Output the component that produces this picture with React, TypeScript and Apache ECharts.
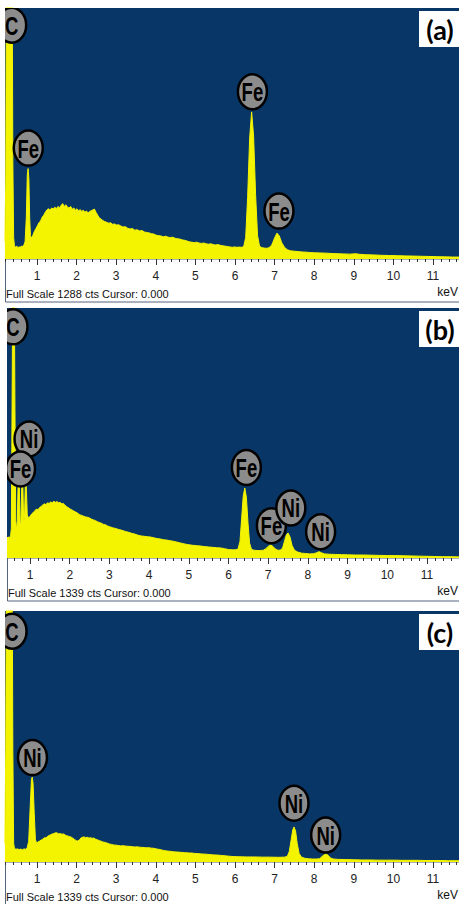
import { useEffect, useRef } from 'react';
import * as echarts from 'echarts';

// ---- data ----
const FULL_SCALE_CTS = [1288, 1339, 1339];
const PANEL_TAGS = ['(a)', '(b)', '(c)'];
const X_TICK_LABELS = [1, 2, 3, 4, 5, 6, 7, 8, 9, 10, 11];

// [keV, counts]
const SPEC_A: [number, number][] = [
  [0.19, 90], [0.21, 400], [0.23, 1600], [0.30, 1900], [0.37, 1600], [0.39, 500], [0.41, 110],
  [0.43, 68], [0.46, 62], [0.49, 66], [0.52, 58], [0.55, 63], [0.58, 60], [0.61, 67], [0.64, 64],
  [0.67, 72], [0.70, 90], [0.73, 210], [0.755, 430], [0.775, 464], [0.795, 410], [0.815, 210],
  [0.835, 120], [0.86, 108], [0.89, 118], [0.93, 140], [0.97, 155], [1.01, 170], [1.05, 186],
  [1.09, 195], [1.13, 214], [1.17, 225], [1.21, 240], [1.25, 252], [1.29, 258], [1.33, 250],
  [1.37, 262], [1.41, 256], [1.45, 266], [1.49, 258], [1.53, 270], [1.57, 262], [1.61, 276],
  [1.65, 284], [1.69, 270], [1.73, 278], [1.77, 266], [1.81, 262], [1.85, 270], [1.89, 255],
  [1.93, 262], [1.97, 250], [2.01, 258], [2.05, 246], [2.09, 254], [2.13, 244], [2.17, 250],
  [2.21, 240], [2.25, 246], [2.29, 236], [2.33, 244], [2.37, 248], [2.41, 252], [2.45, 256],
  [2.49, 240], [2.53, 226], [2.57, 212], [2.61, 206], [2.66, 198], [2.71, 192], [2.76, 188],
  [2.81, 184], [2.86, 186], [2.91, 178], [2.96, 180], [3.01, 174], [3.06, 176], [3.11, 170],
  [3.17, 164], [3.23, 166], [3.29, 158], [3.35, 154], [3.41, 156], [3.47, 148], [3.53, 150],
  [3.59, 144], [3.65, 146], [3.71, 139], [3.77, 136], [3.83, 134], [3.89, 130], [3.95, 128],
  [4.01, 122], [4.07, 120], [4.13, 118], [4.19, 114], [4.25, 117], [4.31, 112], [4.37, 110],
  [4.43, 112], [4.49, 106], [4.55, 104], [4.61, 102], [4.67, 98], [4.73, 96], [4.79, 92],
  [4.85, 88], [4.91, 86], [4.97, 84], [5.03, 86], [5.09, 82], [5.15, 80], [5.21, 82], [5.27, 78],
  [5.33, 76], [5.39, 78], [5.45, 74], [5.51, 72], [5.57, 74], [5.63, 70], [5.69, 68], [5.75, 66],
  [5.81, 64], [5.87, 62], [5.93, 60], [5.99, 62], [6.05, 60], [6.11, 61], [6.17, 60], [6.22, 64],
  [6.27, 110], [6.32, 320], [6.37, 620], [6.42, 755], [6.47, 630], [6.52, 330], [6.57, 120],
  [6.62, 66], [6.68, 58], [6.74, 56], [6.80, 55], [6.86, 58], [6.93, 72], [7.00, 108], [7.06, 133],
  [7.12, 118], [7.18, 84], [7.25, 60], [7.32, 48], [7.40, 42], [7.50, 40], [7.60, 38], [7.70, 36],
  [7.80, 35], [7.90, 33], [8.00, 32], [8.15, 31], [8.30, 30], [8.45, 28], [8.60, 27], [8.75, 26],
  [8.90, 25], [9.05, 27], [9.15, 24], [9.30, 22], [9.50, 21], [9.70, 19], [9.90, 18], [10.10, 17],
  [10.30, 16], [10.50, 15], [10.70, 14], [10.90, 13], [11.10, 12], [11.30, 11], [11.50, 10], [11.66, 10],
];

const SPEC_B: [number, number][] = [
  [0.42, 108], [0.45, 112], [0.48, 110], [0.51, 118], [0.53, 160], [0.55, 900], [0.57, 1600],
  [0.60, 1600], [0.62, 800], [0.64, 200], [0.66, 150], [0.68, 200], [0.70, 400], [0.715, 470],
  [0.73, 380], [0.75, 190], [0.77, 180], [0.79, 380], [0.805, 470], [0.82, 380], [0.84, 200],
  [0.86, 210], [0.88, 380], [0.895, 450], [0.91, 360], [0.93, 230], [0.96, 215], [1.00, 222],
  [1.04, 236], [1.08, 244], [1.12, 252], [1.16, 262], [1.20, 258], [1.24, 270], [1.28, 276],
  [1.32, 284], [1.36, 290], [1.40, 286], [1.44, 296], [1.48, 292], [1.52, 300], [1.56, 296],
  [1.60, 304], [1.64, 298], [1.68, 302], [1.72, 296], [1.76, 298], [1.80, 290], [1.84, 292],
  [1.88, 282], [1.92, 276], [1.96, 270], [2.00, 264], [2.05, 258], [2.10, 252], [2.15, 246],
  [2.20, 240], [2.25, 232], [2.30, 228], [2.35, 224], [2.40, 220], [2.45, 218], [2.50, 214],
  [2.55, 208], [2.60, 204], [2.65, 200], [2.70, 194], [2.75, 190], [2.80, 186], [2.85, 180],
  [2.90, 178], [2.95, 172], [3.00, 168], [3.08, 162], [3.16, 158], [3.24, 152], [3.32, 148],
  [3.40, 142], [3.48, 138], [3.56, 132], [3.64, 128], [3.72, 122], [3.80, 118], [3.88, 116],
  [3.96, 114], [4.04, 112], [4.12, 108], [4.20, 104], [4.28, 102], [4.36, 98], [4.44, 96],
  [4.52, 93], [4.60, 90], [4.68, 86], [4.76, 82], [4.84, 78], [4.92, 74], [5.00, 71], [5.10, 68],
  [5.20, 66], [5.30, 64], [5.40, 61], [5.50, 59], [5.60, 57], [5.70, 55], [5.80, 54], [5.90, 50],
  [6.00, 45], [6.10, 44], [6.18, 44], [6.24, 48], [6.29, 90], [6.33, 210], [6.37, 330], [6.41, 375],
  [6.45, 325], [6.49, 190], [6.53, 80], [6.58, 46], [6.64, 42], [6.72, 40], [6.80, 40], [6.88, 42],
  [6.94, 50], [7.00, 62], [7.06, 70], [7.12, 62], [7.18, 48], [7.24, 42], [7.30, 42], [7.36, 52],
  [7.41, 90], [7.46, 125], [7.50, 134], [7.55, 112], [7.60, 68], [7.66, 42], [7.74, 32], [7.84, 26],
  [7.94, 24], [8.04, 22], [8.14, 23], [8.22, 28], [8.28, 34], [8.34, 28], [8.42, 22], [8.55, 20],
  [8.70, 19], [8.85, 18], [9.00, 17], [9.20, 16], [9.40, 16], [9.60, 15], [9.80, 14], [10.00, 13],
  [10.20, 13], [10.40, 12], [10.60, 11], [10.80, 10], [11.00, 9], [11.20, 8], [11.40, 7], [11.60, 7],
  [11.81, 6],
];

const SPEC_C: [number, number][] = [
  [0.19, 100], [0.21, 600], [0.23, 1700], [0.30, 1900], [0.37, 1700], [0.39, 600], [0.41, 100],
  [0.43, 72], [0.47, 68], [0.51, 70], [0.55, 66], [0.59, 69], [0.63, 65], [0.67, 70], [0.71, 68],
  [0.75, 74], [0.79, 110], [0.83, 300], [0.86, 440], [0.88, 453], [0.90, 420], [0.93, 260],
  [0.96, 120], [0.99, 100], [1.03, 108], [1.07, 112], [1.11, 118], [1.15, 122], [1.19, 130],
  [1.23, 128], [1.27, 138], [1.31, 142], [1.35, 146], [1.39, 150], [1.43, 152], [1.47, 156],
  [1.51, 155], [1.55, 150], [1.59, 152], [1.63, 148], [1.67, 150], [1.71, 144], [1.75, 140],
  [1.79, 138], [1.83, 135], [1.87, 132], [1.91, 126], [1.95, 120], [1.99, 114], [2.03, 112],
  [2.07, 118], [2.11, 128], [2.15, 132], [2.19, 134], [2.23, 130], [2.27, 132], [2.31, 128],
  [2.35, 130], [2.39, 126], [2.43, 128], [2.48, 122], [2.53, 118], [2.58, 114], [2.63, 110],
  [2.68, 106], [2.73, 104], [2.78, 100], [2.83, 96], [2.88, 94], [2.93, 91], [2.99, 90], [3.05, 88],
  [3.11, 86], [3.17, 87], [3.23, 85], [3.29, 84], [3.35, 83], [3.41, 82], [3.47, 80], [3.53, 81],
  [3.59, 79], [3.65, 78], [3.71, 77], [3.77, 76], [3.83, 76], [3.89, 74], [3.95, 73], [4.01, 70],
  [4.07, 68], [4.13, 65], [4.19, 62], [4.25, 60], [4.31, 58], [4.37, 57], [4.43, 55], [4.49, 54],
  [4.55, 53], [4.61, 52], [4.67, 51], [4.73, 50], [4.79, 49], [4.85, 48], [4.91, 48], [4.97, 46],
  [5.05, 45], [5.15, 43], [5.25, 42], [5.35, 40], [5.45, 38], [5.55, 37], [5.65, 35], [5.75, 33],
  [5.85, 31], [5.95, 29], [6.10, 28], [6.30, 27], [6.50, 27], [6.70, 26], [6.90, 26], [7.10, 25],
  [7.25, 26], [7.32, 30], [7.37, 55], [7.42, 120], [7.46, 172], [7.49, 187], [7.53, 165],
  [7.57, 100], [7.62, 45], [7.68, 26], [7.76, 20], [7.86, 17], [7.96, 16], [8.06, 16], [8.14, 18],
  [8.20, 30], [8.26, 40], [8.30, 43], [8.35, 36], [8.41, 22], [8.48, 16], [8.60, 14], [8.80, 13],
  [9.00, 12], [9.20, 11], [9.40, 11], [9.60, 10], [9.80, 10], [10.00, 10], [10.20, 9], [10.40, 9],
  [10.60, 9], [10.80, 8], [11.00, 8], [11.20, 8], [11.40, 7], [11.66, 7],
];

// [element, keV, counts] – position of each peak tag
const LABELS_A: [string, number, number][] = [
  ['C', 0.36, 1200], ['Fe', 0.78, 569], ['Fe', 6.44, 858], ['Fe', 7.11, 246],
];
const LABELS_B: [string, number, number][] = [
  ['C', 0.57, 1238], ['Ni', 0.975, 638], ['Fe', 0.76, 477], ['Fe', 6.45, 485],
  ['Fe', 7.08, 173], ['Ni', 7.57, 268], ['Ni', 8.32, 141],
];
const LABELS_C: [string, number, number][] = [
  ['C', 0.37, 1231], ['Ni', 0.886, 557], ['Ni', 7.49, 314], ['Ni', 8.29, 144],
];

const SPECTRA = [SPEC_A, SPEC_B, SPEC_C];
const LABELS = [LABELS_A, LABELS_B, LABELS_C];

// ---- layout ----
const W = 459;
const H = 904;
const LAYOUT = [
  { left: 5, top: 8, height: 251, xmin: 0.192, xmax: 11.657 },
  { left: 7, top: 308, height: 250, xmin: 0.42, xmax: 11.806 },
  { left: 5, top: 611, height: 251, xmin: 0.192, xmax: 11.657 },
];
const BLUE = '#083767';
const YELLOW = '#f4f400';

function minorTicks(min: number, max: number): number[] {
  const out: number[] = [];
  for (let k = Math.ceil(min / 0.2); k * 0.2 <= max; k++) out.push(Math.round(k * 2) / 10);
  return out;
}

export default function App() {
  const ref = useRef<HTMLDivElement>(null);
  useEffect(() => {
    document.body.style.margin = '0';
    const chart = echarts.init(ref.current!, undefined, { renderer: 'svg' });
    const grid: any[] = [];
    const xAxis: any[] = [];
    const yAxis: any[] = [];
    const series: any[] = [];
    const graphic: any[] = [];
    LAYOUT.forEach((p, i) => {
      grid.push({
        left: p.left, top: p.top, width: W - p.left, height: p.height,
        show: true, backgroundColor: BLUE, borderWidth: 0,
      });
      xAxis.push({
        type: 'value', gridIndex: i, position: 'bottom', min: p.xmin, max: p.xmax,
        axisLine: { show: false },
        splitLine: { show: false },
        axisTick: { show: true, customValues: minorTicks(p.xmin, p.xmax), length: 3, lineStyle: { color: '#333', width: 1 } },
        axisLabel: {
          show: true, customValues: X_TICK_LABELS, margin: 11,
          fontFamily: '"Liberation Sans", Arial, sans-serif', fontSize: 12, color: '#222',
        },
      });
      xAxis.push({
        type: 'value', gridIndex: i, position: 'bottom', min: p.xmin, max: p.xmax,
        axisLine: { show: false },
        splitLine: { show: false },
        axisTick: { show: true, customValues: X_TICK_LABELS, length: 6, lineStyle: { color: '#333', width: 1 } },
        axisLabel: { show: false },
      });
      yAxis.push({ type: 'value', gridIndex: i, min: 0, max: FULL_SCALE_CTS[i], show: false, splitLine: { show: false } });
      series.push({
        type: 'line', xAxisIndex: i * 2, yAxisIndex: i, data: SPECTRA[i],
        symbol: 'none', showSymbol: false, clip: true, z: 2,
        lineStyle: { color: YELLOW, width: 1 },
        areaStyle: { color: YELLOW, opacity: 1 },
      });
      const labels = LABELS[i];
      series.push({
        type: 'custom', xAxisIndex: i * 2, yAxisIndex: i, clip: true, z: 3,
        data: labels.map(([, x, y]) => [x, y]),
        encode: { x: 0, y: 1 },
        renderItem: (params: any, api: any) => {
          const pt = api.coord([api.value(0), api.value(1)]);
          const name = labels[params.dataIndex][0];
          return {
            type: 'group',
            children: [
              {
                type: 'ellipse',
                shape: { cx: pt[0], cy: pt[1], rx: 14.5, ry: 17.5 },
                style: { fill: '#8c8c8c', stroke: '#000', lineWidth: 2.5 },
              },
              {
                type: 'text', x: pt[0], y: pt[1] + 1, scaleX: 0.74,
                style: {
                  text: name, align: 'center', verticalAlign: 'middle',
                  font: 'bold 25px "Liberation Sans", Arial, sans-serif', fill: '#000',
                },
              },
            ],
          };
        },
      });
      const base = p.top + p.height;
      graphic.push(
        {
          type: 'rect', z: -1,
          shape: { x: p.left + 0.5, y: base, width: W - p.left + 2, height: 43 },
          style: { fill: '#fff', stroke: '#56657e', lineWidth: 1 },
        },
        {
          type: 'text', z: 5, x: p.left + 1, y: base + 35,
          style: {
            text: `Full Scale ${FULL_SCALE_CTS[i]} cts Cursor: 0.000`,
            font: '11px "Liberation Sans", Arial, sans-serif', fill: '#111', verticalAlign: 'middle',
          },
        },
        {
          type: 'text', z: 5, x: W - 1, y: base + 33,
          style: {
            text: 'keV', align: 'right', verticalAlign: 'middle',
            font: '12px "Liberation Sans", Arial, sans-serif', fill: '#111',
          },
        },
        {
          type: 'rect', z: 10, shape: { x: 419, y: p.top + 3, width: 42, height: 36 },
          style: { fill: '#fff' },
        },
        {
          type: 'text', z: 11, x: 440, y: p.top + 21,
          style: {
            text: PANEL_TAGS[i], align: 'center', verticalAlign: 'middle',
            font: 'bold 27px Lato, "Open Sans", sans-serif', fill: '#000',
          },
        },
      );
    });
    chart.setOption({
      animation: false,
      backgroundColor: '#fff',
      grid, xAxis, yAxis, series, graphic,
    });
    return () => chart.dispose();
  }, []);
  return <div ref={ref} style={{ position: 'absolute', left: 0, top: 0, width: W, height: H }} />;
}
